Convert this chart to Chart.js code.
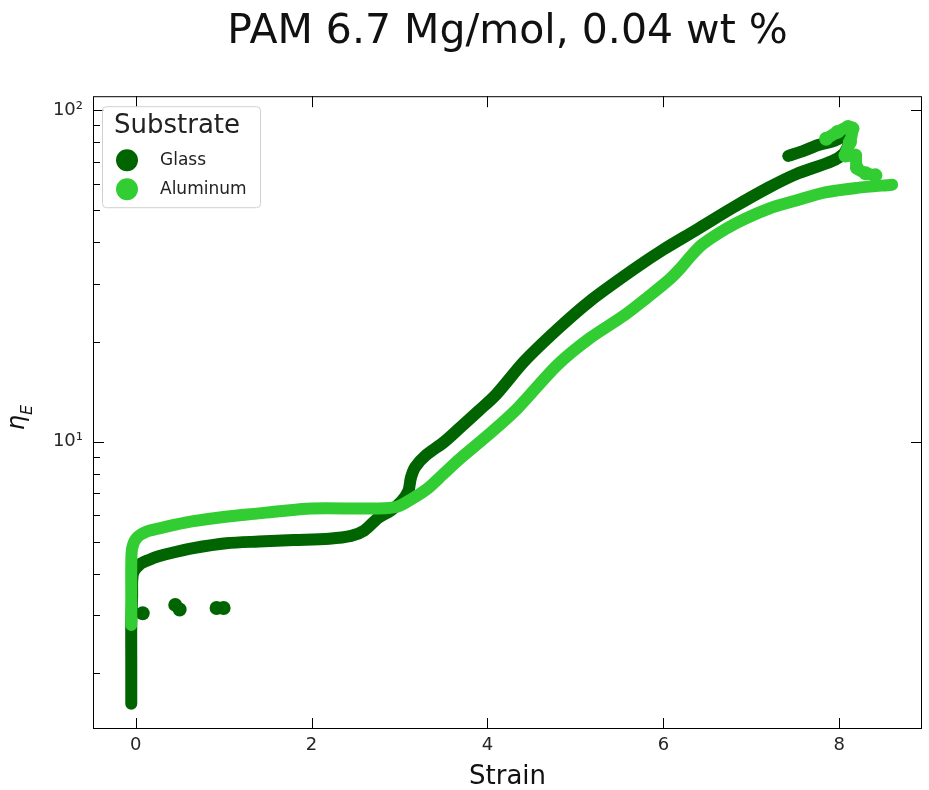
<!DOCTYPE html>
<html>
<head>
<meta charset="utf-8">
<script src="https://cdn.jsdelivr.net/npm/chart.js@4.4.0/dist/chart.umd.min.js"></script>
<style>
  html, body { margin: 0; padding: 0; background: #fff; }
</style>
</head>
<body>
<canvas id="chart" width="929" height="790"></canvas>
<script>
// values
const substrates = ['Glass', 'Aluminum'];
const colors = ['#006400', '#32CD32'];

const glassStrain = [-0.05, -0.05, -0.05, -0.04, -0.03, 0.05, 0.15, 0.27, 0.45, 0.64, 1.03, 1.4, 1.8, 2.2, 2.45, 2.6, 2.76, 2.9, 3.02, 3.1, 3.13, 3.18, 3.3, 3.51, 3.7, 3.9, 4.1, 4.42, 4.8, 5.16, 5.69, 6.0, 6.37, 6.8, 7.2, 7.5, 7.92, 8.05, 8.12];
const glassEta    = [1.62, 2.2, 2.8, 3.4, 4.0, 4.27, 4.4, 4.52, 4.65, 4.77, 4.94, 5.0, 5.05, 5.1, 5.2, 5.4, 5.9, 6.2, 6.6, 7.1, 7.8, 8.4, 9.1, 10.0, 11.1, 12.4, 13.9, 17.5, 21.9, 26.5, 33.5, 38, 43.5, 51, 58.5, 64, 70.3, 74, 80];

const glassUpperStrain = [7.42, 7.6, 7.76, 7.95, 8.1];
const glassUpperEta    = [72.8, 75.5, 78.5, 81, 85];

const glassDotsStrain = [0.08, 0.45, 0.5, 0.92, 1.0];
const glassDotsEta    = [3.04, 3.22, 3.12, 3.15, 3.15];

const aluStrain = [-0.05, -0.05, -0.05, -0.04, 0.01, 0.12, 0.27, 0.45, 0.64, 1.0, 1.4, 1.63, 2.0, 2.76, 2.98, 3.15, 3.32, 3.5, 3.69, 4.03, 4.34, 4.79, 5.16, 5.55, 5.8, 6.07, 6.2, 6.3, 6.45, 6.82, 7.2, 7.5, 7.84, 8.2, 8.6];
const aluEta    = [2.8, 3.5, 4.2, 4.77, 5.12, 5.35, 5.48, 5.62, 5.75, 5.93, 6.08, 6.17, 6.29, 6.29, 6.38, 6.75, 7.23, 8.0, 8.9, 10.6, 12.6, 17, 20.5, 24, 27, 30.9, 33.5, 36, 39.5, 45.5, 50.5, 53.3, 56.5, 58.3, 59.6];

const aluTailStrain = [7.85, 7.98, 8.1, 8.15, 8.12, 8.07, 8.18, 8.2, 8.3, 8.41];
const aluTailEta    = [82, 86, 89, 88, 80, 73, 73, 67, 64.5, 63.6];

const xTicks = [0, 2, 4, 6, 8];
const yTicks = [2, 3, 4, 5, 6, 7, 8, 9, 10, 20, 30, 40, 50, 60, 70, 80, 90, 100];
const yTickLabels = { 10: '10¹', 100: '10²' };

const FONT = "'DejaVu Sans', sans-serif";

function pts(xs, ys) {
  return xs.map((v, i) => ({ x: v, y: ys[i] }));
}

function band(label, xs, ys, color, order, radius) {
  return {
    label: label,
    data: pts(xs, ys),
    showLine: true,
    borderColor: color,
    backgroundColor: color,
    borderWidth: 12,
    borderCapStyle: 'round',
    borderJoinStyle: 'round',
    pointRadius: radius || 0,
    pointBorderWidth: 0,
    tension: 0.3,
    order: order
  };
}

// inward ticks on all four sides plus the frame
const frameTicks = {
  id: 'frameTicks',
  afterDraw(chart) {
    const { ctx, chartArea: a, scales: { x, y } } = chart;
    ctx.save();
    ctx.strokeStyle = '#000';
    ctx.lineWidth = 1;
    ctx.strokeRect(a.left + 0.5, a.top + 0.5, a.right - a.left - 1, a.bottom - a.top - 1);
    ctx.beginPath();
    xTicks.forEach(v => {
      const px = Math.round(x.getPixelForValue(v)) + 0.5;
      ctx.moveTo(px, a.bottom); ctx.lineTo(px, a.bottom - 11);
      ctx.moveTo(px, a.top); ctx.lineTo(px, a.top + 11);
    });
    yTicks.forEach(v => {
      const py = Math.round(y.getPixelForValue(v)) + 0.5;
      const major = (v === 10 || v === 100);
      const len = major ? 11 : 7;
      ctx.moveTo(a.left, py); ctx.lineTo(a.left + len, py);
      if (major) { ctx.moveTo(a.right, py); ctx.lineTo(a.right - len, py); }
    });
    ctx.stroke();
    ctx.restore();
  }
};

// y axis title: eta with subscript E
const etaLabel = {
  id: 'etaLabel',
  afterDraw(chart) {
    const ctx = chart.ctx;
    const cy = (chart.chartArea.top + chart.chartArea.bottom) / 2 + 5;
    ctx.save();
    ctx.translate(20, cy);
    ctx.rotate(-Math.PI / 2);
    ctx.fillStyle = '#111';
    ctx.textAlign = 'left';
    ctx.textBaseline = 'alphabetic';
    ctx.font = "italic 24px " + FONT;
    const w1 = ctx.measureText('η').width;
    ctx.font = "italic 16px " + FONT;
    const w2 = ctx.measureText('E').width;
    const x0 = -(w1 + w2) / 2;
    ctx.font = "italic 24px " + FONT;
    ctx.fillText('η', x0, 4);
    ctx.font = "italic 16px " + FONT;
    ctx.fillText('E', x0 + w1, 12);
    ctx.restore();
  }
};

// legend box with title, like the matplotlib one
const substrateLegend = {
  id: 'substrateLegend',
  afterDraw(chart) {
    const ctx = chart.ctx;
    const a = chart.chartArea;
    const left = a.left + 9, top = a.top + 10, w = 158, h = 101;
    ctx.save();
    ctx.beginPath();
    ctx.roundRect(left + 0.5, top + 0.5, w, h, 4);
    ctx.fillStyle = 'rgba(255,255,255,0.8)';
    ctx.fill();
    ctx.strokeStyle = '#d0d0d0';
    ctx.lineWidth = 1;
    ctx.stroke();

    ctx.fillStyle = '#222';
    ctx.textBaseline = 'middle';
    ctx.textAlign = 'left';
    ctx.font = "26px " + FONT;
    ctx.fillText('Substrate', left + 12, top + 20);

    ctx.font = "17px " + FONT;
    substrates.forEach((name, i) => {
      const cy = top + 54 + i * 29;
      ctx.beginPath();
      ctx.arc(left + 25, cy, 11, 0, Math.PI * 2);
      ctx.fillStyle = colors[i];
      ctx.fill();
      ctx.fillStyle = '#222';
      ctx.fillText(name, left + 58, cy);
    });
    ctx.restore();
  }
};

new Chart(document.getElementById('chart'), {
  type: 'scatter',
  data: {
    datasets: [
      band(substrates[0], glassStrain, glassEta, colors[0], 2),
      band(substrates[0] + ' 2', glassUpperStrain, glassUpperEta, colors[0], 2),
      {
        label: substrates[0] + ' 3',
        data: pts(glassDotsStrain, glassDotsEta),
        backgroundColor: colors[0],
        borderColor: colors[0],
        pointRadius: 7,
        borderWidth: 0,
        order: 2
      },
      band(substrates[1], aluStrain, aluEta, colors[1], 1),
      band(substrates[1] + ' 2', aluTailStrain, aluTailEta, colors[1], 1, 7)
    ]
  },
  options: {
    responsive: false,
    animation: false,
    layout: { padding: { left: 0, right: 1, top: 0, bottom: 0 } },
    plugins: {
      legend: { display: false },
      tooltip: { enabled: false },
      title: {
        display: true,
        fullSize: false,
        text: 'PAM 6.7 Mg/mol, 0.04 wt %',
        color: '#111',
        font: { family: FONT, size: 41, weight: 'normal', lineHeight: 1.2 },
        padding: { top: 8, bottom: 39 }
      }
    },
    scales: {
      x: {
        type: 'linear',
        min: -0.485,
        max: 8.94,
        afterBuildTicks: s => { s.ticks = xTicks.map(v => ({ value: v })); },
        afterFit: s => { s.height = 61; },
        grid: { display: false, drawTicks: false },
        border: { display: false },
        ticks: {
          padding: 6,
          color: '#262626',
          font: { family: FONT, size: 18 },
          callback: v => String(v)
        },
        title: {
          display: true,
          text: 'Strain',
          color: '#111',
          font: { family: FONT, size: 26, lineHeight: 1 },
          padding: { top: 0, bottom: 0 }
        }
      },
      y: {
        type: 'logarithmic',
        min: 1.36,
        max: 110.2,
        afterBuildTicks: s => { s.ticks = yTicks.map(v => ({ value: v, major: v === 10 || v === 100 })); },
        afterFit: s => { s.width = 93; },
        grid: { display: false, drawTicks: false },
        border: { display: false },
        ticks: {
          autoSkip: false,
          padding: 10,
          color: '#262626',
          font: { family: FONT, size: 18 },
          callback: v => yTickLabels[v] || ''
        }
      }
    }
  },
  plugins: [frameTicks, etaLabel, substrateLegend]
});
</script>
</body>
</html>
